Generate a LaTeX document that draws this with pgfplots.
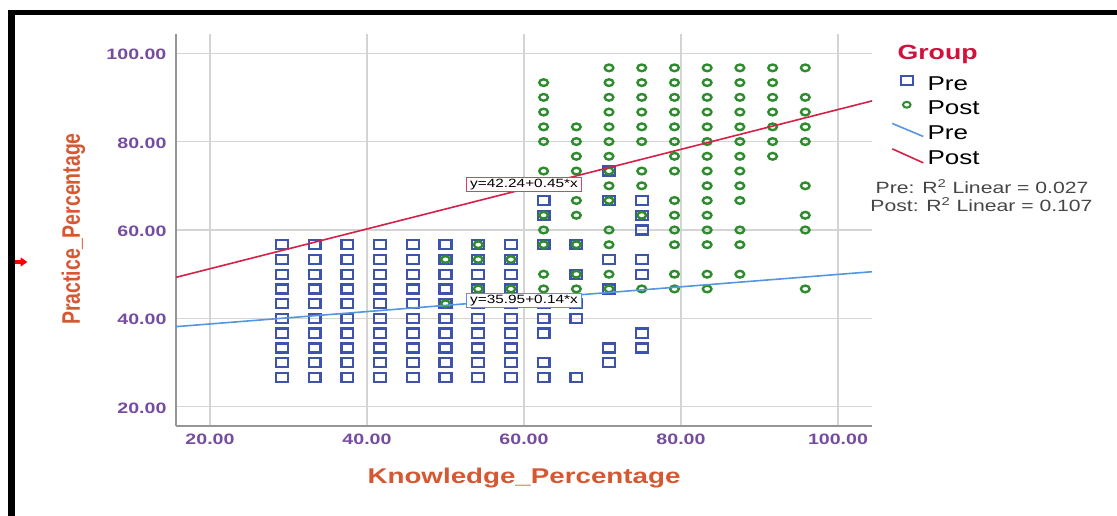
\documentclass[border=0pt]{standalone}
\usepackage{fontspec}
\setmainfont{Liberation Sans}
\usepackage{graphicx}
\usepackage{pgfplots}
\pgfplotsset{compat=1.18}
\pgfplotsset{/pgf/number format/assume math mode=true}
\definecolor{preblue}{RGB}{62,84,172}
\definecolor{postgreen}{RGB}{46,140,46}
\definecolor{prelineblue}{RGB}{85,150,225}
\definecolor{postred}{RGB}{214,32,72}
\definecolor{gridgray}{RGB}{212,212,212}
\definecolor{axisgray}{RGB}{150,150,150}
\definecolor{tickpurple}{RGB}{118,76,160}
\definecolor{titleorange}{RGB}{214,88,50}
\definecolor{groupred}{RGB}{210,16,60}
\definecolor{rgray}{RGB}{70,70,70}
\newcommand{\tickfont}{\fontsize{11.3}{13}\selectfont\bfseries}
\pgfplotsset{
  legsq/.style={legend image code/.code={\draw[overlay] plot[only marks, mark=square, mark size=3.6pt, mark options={xscale=1.3, line width=1.5pt, draw=preblue}] coordinates {(10.9pt,7.1pt)};}},
  legci/.style={legend image code/.code={\draw[overlay] plot[only marks, mark=o, mark size=2.2pt, mark options={xscale=1.3, line width=1.5pt, draw=postgreen}] coordinates {(10.9pt,7.5pt)};}},
  legpre/.style={legend image code/.code={\draw[overlay, prelineblue, line width=1.2pt] (0pt,12pt) -- (23.25pt,2.25pt);}},
  legpost/.style={legend image code/.code={\draw[overlay, postred, line width=1.2pt] (0pt,11.5pt) -- (23.25pt,1pt);}},
}
\begin{document}
\begin{tikzpicture}
\useasboundingbox (0,0) rectangle (837.75pt,387pt);
\fill[white] (0,0) rectangle (837.75pt,387pt);
\begin{axis}[
  at={(132pt,67.5pt)}, anchor=south west,
  scale only axis, width=522pt, height=294pt,
  xmin=15.67, xmax=104.33, ymin=15.67, ymax=104.33,
  xtick={20,40,60,80,100}, ytick={20,40,60,80,100},
  axis x line*=bottom, axis y line*=left,
  axis line style={draw=axisgray, line width=0.9pt},
  grid=major, grid style={draw=gridgray, line width=0.9pt},
  major tick length=0pt, tick style={draw=none},
  xticklabel={\scalebox{1.3}[1]{\pgfmathprintnumber[fixed,fixed zerofill,precision=2]{\tick}}},
  yticklabel={\scalebox{1.3}[1]{\pgfmathprintnumber[fixed,fixed zerofill,precision=2]{\tick}}},
  every tick label/.append style={font=\tickfont, text=tickpurple, inner sep=0pt},
  xticklabel style={anchor=north, yshift=-6pt},
  yticklabel style={anchor=east, xshift=-7pt, yshift=-1pt},
  xlabel={\scalebox{1.3}[1]{Knowledge\_Percentage}},
  ylabel={\scalebox{1}[1.3]{Practice\_Percentage}},
  every axis x label/.style={at={(axis description cs:0.5,-0.146)}, anchor=base, font=\fontsize{16}{19}\selectfont\bfseries, text=titleorange},
  every axis y label/.style={at={(axis description cs:-0.138,0.5026)}, anchor=base, rotate=90, font=\fontsize{14.6}{17}\selectfont\bfseries, text=titleorange},
  clip mode=individual,
  legend style={at={(axis description cs:1.0287,0.9742)}, anchor=north west, draw=none, fill=none, inner sep=0pt, row sep=5.7pt, font=\fontsize{15}{18}\selectfont, cells={anchor=base west}, nodes={inner sep=0.5pt}, /tikz/every odd column/.append style={column sep=26pt}},
]
% Pre group
\addplot[only marks, mark=square, mark size=3.4pt, mark options={xscale=1.3, line width=1.7pt, draw=preblue}, forget plot] coordinates {
(29.17,26.67)(29.17,30)(29.17,33.33)(29.17,36.67)(29.17,40)(29.17,43.33)(29.17,46.67)(29.17,50)(29.17,53.33)(29.17,56.67)
(33.33,26.67)(33.33,30)(33.33,33.33)(33.33,36.67)(33.33,40)(33.33,43.33)(33.33,46.67)(33.33,50)(33.33,53.33)(33.33,56.67)
(37.5,26.67)(37.5,30)(37.5,33.33)(37.5,36.67)(37.5,40)(37.5,43.33)(37.5,46.67)(37.5,50)(37.5,53.33)(37.5,56.67)
(41.67,26.67)(41.67,30)(41.67,33.33)(41.67,36.67)(41.67,40)(41.67,43.33)(41.67,46.67)(41.67,50)(41.67,53.33)(41.67,56.67)
(45.83,26.67)(45.83,30)(45.83,33.33)(45.83,36.67)(45.83,40)(45.83,43.33)(45.83,46.67)(45.83,50)(45.83,53.33)(45.83,56.67)
(50,26.67)(50,30)(50,33.33)(50,36.67)(50,40)(50,43.33)(50,46.67)(50,50)(50,53.33)(50,56.67)
(54.17,26.67)(54.17,30)(54.17,33.33)(54.17,36.67)(54.17,40)(54.17,43.33)(54.17,46.67)(54.17,50)(54.17,53.33)(54.17,56.67)
(58.33,26.67)(58.33,30)(58.33,33.33)(58.33,36.67)(58.33,40)(58.33,43.33)(58.33,46.67)(58.33,50)(58.33,53.33)(58.33,56.67)
(62.5,26.67)(62.5,30)(62.5,36.67)(62.5,40)(62.5,43.33)(62.5,56.67)(62.5,63.33)(62.5,66.67)
(66.67,26.67)(66.67,40)(66.67,43.33)(66.67,50)(66.67,56.67)
(70.83,30)(70.83,33.33)(70.83,46.67)(70.83,53.33)(70.83,66.67)(70.83,73.33)
(75,33.33)(75,36.67)(75,50)(75,53.33)(75,60)(75,63.33)(75,66.67)
};
% Post group
\addplot[only marks, mark=o, mark size=2.5pt, mark options={xscale=1.3, line width=1.8pt, draw=postgreen}, forget plot] coordinates {
(50,43.33)(50,53.33)(54.17,46.67)(54.17,53.33)(54.17,56.67)(58.33,46.67)(58.33,53.33)
(62.5,46.67)(62.5,50)(62.5,56.67)(62.5,60)(62.5,63.33)(62.5,73.33)(62.5,80)(62.5,83.33)(62.5,86.67)(62.5,90)(62.5,93.33)
(66.67,46.67)(66.67,50)(66.67,56.67)(66.67,63.33)(66.67,66.67)(66.67,73.33)(66.67,76.67)(66.67,80)(66.67,83.33)
(70.83,46.67)(70.83,50)(70.83,56.67)(70.83,60)(70.83,66.67)(70.83,70)(70.83,73.33)(70.83,76.67)(70.83,80)(70.83,83.33)(70.83,86.67)(70.83,90)(70.83,93.33)(70.83,96.67)
(75,46.67)(75,63.33)(75,70)(75,73.33)(75,80)(75,83.33)(75,86.67)(75,90)(75,93.33)(75,96.67)
(79.17,46.67)(79.17,50)(79.17,56.67)(79.17,60)(79.17,63.33)(79.17,66.67)(79.17,73.33)(79.17,76.67)(79.17,80)(79.17,83.33)(79.17,86.67)(79.17,90)(79.17,93.33)(79.17,96.67)
(83.33,46.67)(83.33,50)(83.33,56.67)(83.33,60)(83.33,63.33)(83.33,66.67)(83.33,70)(83.33,73.33)(83.33,76.67)(83.33,80)(83.33,83.33)(83.33,86.67)(83.33,90)(83.33,93.33)(83.33,96.67)
(87.5,50)(87.5,56.67)(87.5,60)(87.5,66.67)(87.5,70)(87.5,73.33)(87.5,76.67)(87.5,80)(87.5,83.33)(87.5,86.67)(87.5,90)(87.5,93.33)(87.5,96.67)
(91.67,76.67)(91.67,80)(91.67,83.33)(91.67,86.67)(91.67,90)(91.67,93.33)(91.67,96.67)
(95.83,46.67)(95.83,60)(95.83,63.33)(95.83,70)(95.83,80)(95.83,83.33)(95.83,86.67)(95.83,90)(95.83,96.67)
};
% fit lines
\addplot[prelineblue, line width=1.2pt, forget plot] coordinates {(15.67,38.14) (104.33,50.56)};
\addplot[postred, line width=1.2pt, forget plot] coordinates {(15.67,49.29) (104.33,89.19)};
\node[draw=postred!85, line width=0.75pt, fill=white, inner xsep=2.5pt, inner ysep=1pt, font=\fontsize{9}{10}\selectfont] at (axis cs:60,70.3) {\scalebox{1.28}[1]{y=42.24+0.45*x}};
\node[draw=prelineblue, line width=0.75pt, fill=white, inner xsep=2.5pt, inner ysep=1pt, font=\fontsize{9}{10}\selectfont] at (axis cs:60,44.0) {\scalebox{1.28}[1]{y=35.95+0.14*x}};
% legend
\addlegendimage{empty legend}
\addlegendentry{\hspace*{-22.5pt}\raisebox{4.5pt}{\textcolor{groupred}{\fontsize{15.4}{18}\selectfont\bfseries\scalebox{1.3}[1]{Group}}}}
\addlegendimage{legsq}
\addlegendentry{\scalebox{1.3}[1]{Pre}}
\addlegendimage{legci}
\addlegendentry{\scalebox{1.3}[1]{Post}}
\addlegendimage{legpre}
\addlegendentry{\scalebox{1.3}[1]{Pre}}
\addlegendimage{legpost}
\addlegendentry{\scalebox{1.3}[1]{Post}}
\end{axis}
\node[anchor=base, inner sep=0pt, font=\fontsize{12.2}{14}\selectfont, text=rgray] at (736.5pt,242pt) {\scalebox{1.3}[1]{Pre: R\textsuperscript{2} Linear = 0.027}};
\node[anchor=base, inner sep=0pt, font=\fontsize{12.2}{14}\selectfont, text=rgray] at (736.1pt,228.2pt) {\scalebox{1.3}[1]{Post: R\textsuperscript{2} Linear = 0.107}};
% frame
\fill[black] (6pt,375.75pt) rectangle (837.75pt,379.5pt);
\fill[black] (6pt,0pt) rectangle (11.25pt,379.5pt);
\fill[red] (11.25pt,189.3pt) rectangle (16pt,191.7pt);
\fill[red] (15.5pt,194pt) -- (20.5pt,190.5pt) -- (15.5pt,187pt) -- cycle;
\end{tikzpicture}
\end{document}
